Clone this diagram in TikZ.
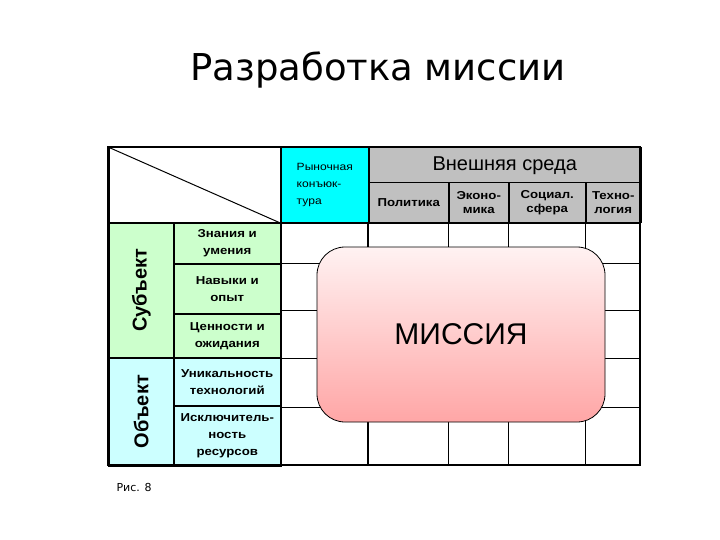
\documentclass[tikz,border=0pt]{standalone}
\usepackage{fontspec}
\setmainfont{Liberation Sans}
\newfontfamily\titlefont{DejaVu Sans}
\newfontfamily\cellfont[FakeStretch=1.15]{Liberation Sans}
\usetikzlibrary{positioning}

\definecolor{subjgreen}{RGB}{204,255,204}
\definecolor{objcyan}{RGB}{204,255,255}
\definecolor{marketcyan}{RGB}{0,255,255}
\definecolor{envgray}{RGB}{192,192,192}
\definecolor{missiontop}{RGB}{255,242,242}
\definecolor{missionbot}{RGB}{255,166,166}

\begin{document}
\begin{tikzpicture}[x=1pt, y=-1pt,
  cell/.style={draw, line width=1.5pt, anchor=north west, align=center, inner sep=1pt},
  head/.style={cell, fill=envgray, minimum height=40, font=\cellfont\bfseries\fontsize{11.5}{14}\selectfont},
  item/.style={cell, minimum width=107, font=\cellfont\bfseries\fontsize{11.5}{17}\selectfont},
  side/.style={cell, minimum width=65},
  sidelabel/.style={rotate=90, font=\bfseries\fontsize{20}{22}\selectfont},
  thin/.style={line width=0.8pt}]
\useasboundingbox (0,0) rectangle (720,540);
\node[font=\titlefont\fontsize{37}{40}\selectfont] (title) at (378,70) {Разработка миссии};
% grid behind the mission
\foreach \gx in {448,508,585}
  \draw[thin] (\gx,222) -- (\gx,465);
\draw[line width=1.5pt] (368,222) -- (368,465);
\foreach \gy in {263,310,358,407}
  \draw[thin] (280,\gy) -- (640,\gy);
\node[draw, thin, rounded corners=28pt, top color=missiontop, bottom color=missionbot,
  minimum width=288, minimum height=175, font=\fontsize{30}{32}\selectfont] (mission) at (461,334.5) {МИССИЯ};
% header row
\node[cell, minimum width=172, minimum height=75] (corner) at (108,147) {};
\draw[line width=1pt] (corner.north west) -- (corner.south east);
\node[cell, fill=marketcyan, minimum width=88, minimum height=75, align=left,
  font=\cellfont\fontsize{10.5}{17}\selectfont] (market) at (280,147) {Рыночная\\конъюк-\\тура};
\node[head, minimum width=272, minimum height=35, font=\fontsize{20}{22}\selectfont] (env) at (368,147) {Внешняя среда};
\node[head, minimum width=80] (politics) at (368,182) {Политика};
\node[head, minimum width=60] (economy) at (448,182) {Эконо-\\мика};
\node[head, minimum width=77] (social) at (508,182) {Социал.\\сфера};
\node[head, minimum width=55] (techno) at (585,182) {Техно-\\логия};
% left columns
\node[side, fill=subjgreen, minimum height=135] (subject) at (108,222) {};
\node[sidelabel] (subjtext) at (subject.center) {Субъект};
\node[side, fill=objcyan, minimum height=108] (object) at (108,357) {};
\node[sidelabel] (objtext) at (object.center) {Объект};
\node[item, fill=subjgreen, minimum height=41] (knowledge) at (173,222) {Знания и\\умения};
\node[item, fill=subjgreen, minimum height=50] (skills) at (173,263) {Навыки и\\опыт};
\node[item, fill=subjgreen, minimum height=44] (values) at (173,313) {Ценности и\\ожидания};
\node[item, fill=objcyan, minimum height=48] (unique) at (173,357) {Уникальность\\технологий};
\node[item, fill=objcyan, minimum height=60] (exclusive) at (173,405) {Исключитель-\\ность\\ресурсов};
% outer frame
\coordinate (frameSE) at (640,465);
\draw[line width=1.5pt] (corner.south west) -- (corner.south west -| frameSE);
\draw[line width=2.5pt] (corner.north west) rectangle (frameSE);
\node[font=\titlefont\fontsize{11}{13}\selectfont, anchor=west] (caption) at (113,487) {Рис. 8};
\end{tikzpicture}
\end{document}
